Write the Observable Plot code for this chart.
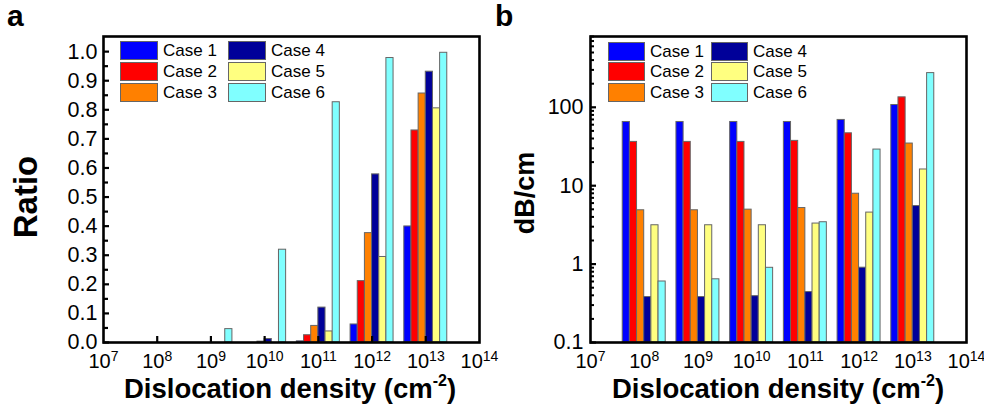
<!DOCTYPE html>
<html><head><meta charset="utf-8">
<script src="https://cdn.jsdelivr.net/npm/d3@7"></script>
<script src="https://cdn.jsdelivr.net/npm/@observablehq/plot@0.6"></script>
<style>
body{margin:0;background:#fff;font-family:"Liberation Sans",Arial,sans-serif;}
#wrap{position:relative;width:984px;height:411px;overflow:hidden;background:#fff}
.panel{position:absolute;top:0}
.panel svg{overflow:visible}
.lbl{position:absolute;font-weight:bold;line-height:1;white-space:nowrap;color:#000}
.sw{position:absolute;box-sizing:border-box;border:1px solid #666}
.lt{position:absolute;font-size:17px;line-height:19px;height:19px;white-space:nowrap;color:#000}
</style></head>
<body><div id="wrap"></div>
<script>
// ---- data ----
const decades = [8, 9, 10, 11, 12, 13];
const cases = ["Case 1", "Case 2", "Case 3", "Case 4", "Case 5", "Case 6"];
const colors = ["#0000ff", "#ff0000", "#ff8000", "#000099", "#ffff80", "#80ffff"];

const ratioCase1 = [0, 0, 0, 0.004, 0.062, 0.399];
const ratioCase2 = [0, 0, 0, 0.025, 0.211, 0.729];
const ratioCase3 = [0, 0, 0.003, 0.057, 0.376, 0.856];
const ratioCase4 = [0, 0, 0.012, 0.120, 0.578, 0.931];
const ratioCase5 = [0, 0, 0, 0.038, 0.294, 0.805];
const ratioCase6 = [0, 0.046, 0.319, 0.826, 0.978, 0.996];

const lossCase1 = [65, 65, 65, 65, 69, 107];
const lossCase2 = [36.2, 36.2, 36.2, 37.3, 46.6, 134];
const lossCase3 = [4.86, 4.86, 4.95, 5.19, 7.9, 34.5];
const lossCase4 = [0.38, 0.38, 0.39, 0.44, 0.9, 5.5];
const lossCase5 = [3.13, 3.13, 3.13, 3.29, 4.54, 16.1];
const lossCase6 = [0.60, 0.64, 0.897, 3.42, 28.9, 273];

const xTickValues = [1e7, 1e8, 1e9, 1e10, 1e11, 1e12, 1e13, 1e14];
const xInnerTicks = [1e8, 1e9, 1e10, 1e11, 1e12, 1e13];
const yMajorA = [0, 0.1, 0.2, 0.3, 0.4, 0.5, 0.6, 0.7, 0.8, 0.9, 1.0];
const yMinorA = [0.05, 0.15, 0.25, 0.35, 0.45, 0.55, 0.65, 0.75, 0.85, 0.95];
const yMajorB = [0.1, 1, 10, 100];
const yMinorB = [0.2,0.3,0.4,0.5,0.6,0.7,0.8,0.9, 2,3,4,5,6,7,8,9, 20,30,40,50,60,70,80,90, 200,300,400,500,600,700,800];

// ---- build tables ----
const groupWidth = 0.8; // in decades
function table(series) {
  const rows = [];
  series.forEach((vals, i) => vals.forEach((v, j) => {
    const c = decades[j];
    rows.push({
      case: cases[i], v,
      x1: 10 ** (c - groupWidth / 2 + i * groupWidth / 6),
      x2: 10 ** (c - groupWidth / 2 + (i + 1) * groupWidth / 6)
    });
  }));
  return rows;
}
const tableA = table([ratioCase1, ratioCase2, ratioCase3, ratioCase4, ratioCase5, ratioCase6]).filter(d => d.v > 0);
const tableB = table([lossCase1, lossCase2, lossCase3, lossCase4, lossCase5, lossCase6]);

const font = "'Liberation Sans', Arial, sans-serif";
const H = 411;

function supFormat(d) { return "10^" + Math.round(Math.log10(d)); }
function fixSup(svg) {
  svg.querySelectorAll('g[aria-label="x-axis tick label"] text').forEach(t => {
    const s = t.textContent;
    if (!s.includes("^")) return;
    const [base, exp] = s.split("^");
    t.textContent = "";
    const ns = "http://www.w3.org/2000/svg";
    const a = document.createElementNS(ns, "tspan"); a.textContent = base; t.appendChild(a);
    const b = document.createElementNS(ns, "tspan"); b.textContent = exp;
    b.setAttribute("font-size", "14"); b.setAttribute("dy", "-7"); t.appendChild(b);
  });
}

// ---- panel a ----
const mA = {left: 103, right: 11, top: 36, bottom: 69}, WA = 490;
const pwA = WA - mA.left - mA.right, phA = H - mA.top - mA.bottom;
const plotA = Plot.plot({
  width: WA, height: H,
  marginLeft: mA.left, marginRight: mA.right, marginTop: mA.top, marginBottom: mA.bottom,
  style: {fontFamily: font, fontSize: "20px", color: "#000", background: "transparent", overflow: "visible"},
  x: {type: "log", domain: [1e7, 1e14]},
  y: {domain: [0, 1.052]},
  color: {domain: cases, range: colors},
  marks: [
    Plot.rect(tableA, {x1: "x1", x2: "x2", y1: 0, y2: "v", fill: "case", stroke: "#666", strokeWidth: 1}),
    Plot.axisX(xTickValues, {tickSize: 0, tickPadding: 11, tickFormat: supFormat, label: null, fontSize: 20}),
    Plot.axisY(yMajorA, {tickSize: 0, tickPadding: 6, tickFormat: d => d.toFixed(1), label: null, fontSize: 21.5}),
    Plot.tickX(xInnerTicks, {x: d => d, insetTop: phA - 6, strokeWidth: 2.2}),
    Plot.tickY(yMajorA, {y: d => d, insetRight: pwA - 6, strokeWidth: 2.2}),
    Plot.tickY(yMinorA, {y: d => d, insetRight: pwA - 5, strokeWidth: 2.2}),
    Plot.frame({strokeWidth: 2.6})
  ]
});
fixSup(plotA);

// ---- panel b ----
const mB = {left: 100, right: 18, top: 36, bottom: 69}, WB = 494;
const pwB = WB - mB.left - mB.right, phB = H - mB.top - mB.bottom;
const plotB = Plot.plot({
  width: WB, height: H,
  marginLeft: mB.left, marginRight: mB.right, marginTop: mB.top, marginBottom: mB.bottom,
  style: {fontFamily: font, fontSize: "20px", color: "#000", background: "transparent", overflow: "visible"},
  x: {type: "log", domain: [1e7, 1e14]},
  y: {type: "log", domain: [0.1, 800]},
  color: {domain: cases, range: colors},
  marks: [
    Plot.rect(tableB, {x1: "x1", x2: "x2", y1: 0.1, y2: "v", fill: "case", stroke: "#666", strokeWidth: 1}),
    Plot.axisX(xTickValues, {tickSize: 0, tickPadding: 11, tickFormat: supFormat, label: null, fontSize: 20}),
    Plot.axisY(yMajorB, {tickSize: 0, tickPadding: 7, tickFormat: d => String(d), label: null, fontSize: 21.5}),
    Plot.tickY(yMajorB, {y: d => d, insetRight: pwB - 6, strokeWidth: 2.2}),
    Plot.tickY(yMinorB, {y: d => d, insetRight: pwB - 4, strokeWidth: 2}),
    Plot.frame({strokeWidth: 2.6})
  ]
});
fixSup(plotB);

// ---- layout ----
const wrap = document.getElementById("wrap");
const pb = document.createElement("div"); pb.className = "panel"; pb.style.left = "490px"; pb.appendChild(plotB); wrap.appendChild(pb);
const pa = document.createElement("div"); pa.className = "panel"; pa.style.left = "0px"; pa.appendChild(plotA); wrap.appendChild(pa);

function addLabel(html, css) {
  const d = document.createElement("div"); d.className = "lbl"; d.innerHTML = html;
  Object.assign(d.style, css); wrap.appendChild(d); return d;
}
addLabel("a", {left: "7px", top: "1px", fontSize: "30px"});
addLabel("b", {left: "495px", top: "1px", fontSize: "30px"});
addLabel("Ratio", {left: "25px", top: "197px", fontSize: "33px", transform: "translate(-50%,-50%) rotate(-90deg)"});
addLabel("dB/cm", {left: "525px", top: "193px", fontSize: "27px", transform: "translate(-50%,-50%) rotate(-90deg)"});
const xTitle = 'Dislocation density (cm<span style="font-size:16px;position:relative;top:-12px">-2</span>)';
addLabel(xTitle, {left: "290px", top: "375px", fontSize: "27.5px", transform: "translateX(-50%)"});
addLabel(xTitle, {left: "778px", top: "375px", fontSize: "27.5px", transform: "translateX(-50%)"});

// legends
function legend(colLeft, swW, rowTop) {
  cases.forEach((c, i) => {
    const col = Math.floor(i / 3), row = i % 3;
    const s = document.createElement("div"); s.className = "sw";
    Object.assign(s.style, {left: colLeft[col] + "px", top: rowTop[row] + "px", width: swW + "px", height: "19px", background: colors[i]});
    wrap.appendChild(s);
    const t = document.createElement("div"); t.className = "lt"; t.textContent = c;
    Object.assign(t.style, {left: (colLeft[col] + swW + 5) + "px", top: rowTop[row] + "px"});
    wrap.appendChild(t);
  });
}
legend([120, 228], 38, [41, 62, 83]);
legend([608, 711], 37, [42, 62, 83]);
</script>
</body></html>
